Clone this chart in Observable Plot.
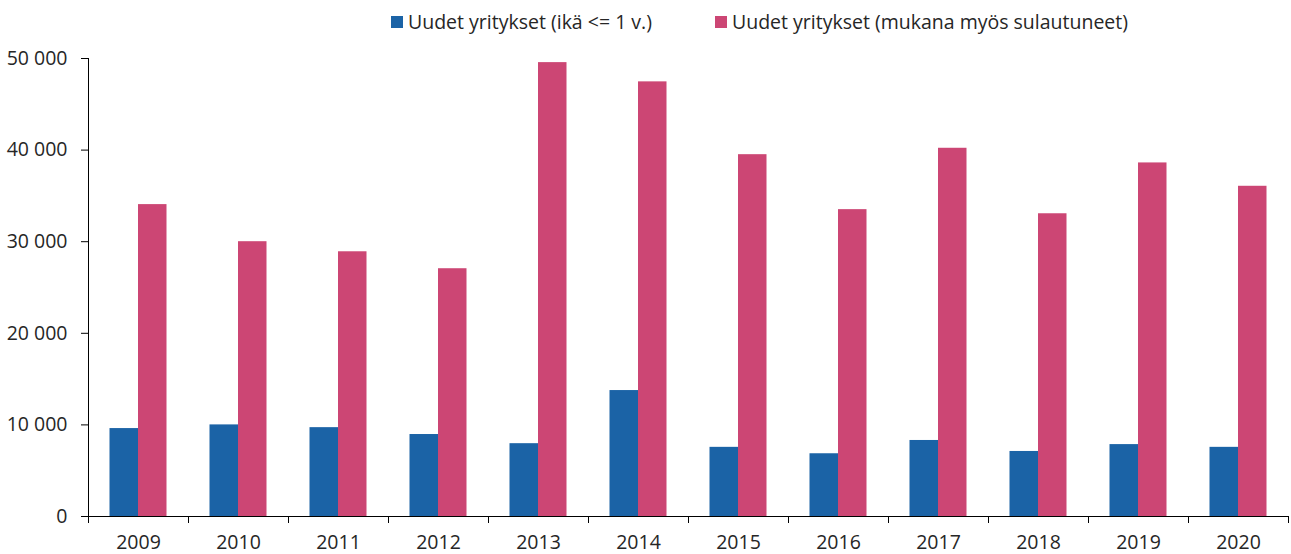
<!DOCTYPE html>
<html>
<head>
<meta charset="utf-8">
<script src="https://cdn.jsdelivr.net/npm/d3@7"></script>
<script src="https://cdn.jsdelivr.net/npm/@observablehq/plot@0.6"></script>
<style>
  html, body { margin: 0; padding: 0; background: #fff; }
  body { width: 1291px; height: 554px; overflow: hidden; font-family: "Open Sans", sans-serif; color: #262626; }
  #legend { position: relative; height: 40px; font-size: 19.5px; }
  .item { position: absolute; top: 8px; display: flex; align-items: center; white-space: nowrap; }
  .sw { width: 12px; height: 12px; margin-right: 5px; }
  #chart svg { display: block; }
</style>
</head>
<body>
<div id="legend"></div>
<div id="chart"></div>
<script>
const years = ["2009","2010","2011","2012","2013","2014","2015","2016","2017","2018","2019","2020"];
const seriesNames = ["Uudet yritykset (ikä <= 1 v.)", "Uudet yritykset (mukana myös sulautuneet)"];
const seriesColors = ["#1b63a6", "#cc4674"];
const newFirms = [9600, 10000, 9700, 8950, 7950, 13750, 7550, 6850, 8300, 7100, 7850, 7550];
const withMerged = [34050, 30000, 28900, 27050, 49550, 47450, 39500, 33500, 40200, 33050, 38600, 36050];
const yTicks = [0, 10000, 20000, 30000, 40000, 50000];

const legend = document.getElementById("legend");
const legendLeft = [391, 715];
seriesNames.forEach((name, i) => {
  const el = document.createElement("div");
  el.className = "item";
  el.style.left = legendLeft[i] + "px";
  el.innerHTML = `<span class="sw" style="background:${seriesColors[i]}"></span><span>${name}</span>`;
  legend.appendChild(el);
});

const dataBlue = years.map((y, i) => ({year: y, value: newFirms[i]}));
const dataPink = years.map((y, i) => ({year: y, value: withMerged[i]}));
const fmt = d => d3.format(",")(d).replace(/,/g, " ");

const chart = Plot.plot({
  width: 1291,
  height: 514,
  marginLeft: 88,
  marginRight: 3,
  marginTop: 18,
  marginBottom: 38,
  style: {fontFamily: "'Open Sans', sans-serif", fontSize: "19.5px", color: "#262626", background: "#fff", overflow: "visible"},
  x: {domain: years, padding: 0, label: null},
  y: {domain: [0, 50000], label: null},
  marks: [
    Plot.barY(dataBlue, {x: "year", y: "value", fill: seriesColors[0], insetLeft: 21.5, insetRight: 50}),
    Plot.barY(dataPink, {x: "year", y: "value", fill: seriesColors[1], insetLeft: 50, insetRight: 21.5}),
    Plot.axisY({ticks: yTicks, tickFormat: fmt, tickSize: 7, tickPadding: 14, stroke: "#000", fill: "#262626", label: null}),
    Plot.axisX({tickSize: 0, tickPadding: 19, fill: "#262626", label: null}),
    Plot.axisX({ticks: years, tickSize: 7, tickFormat: () => "", dx: -50, stroke: "#000", label: null}),
    Plot.axisX({ticks: years.slice(-1), tickSize: 7, tickFormat: () => "", dx: 50, stroke: "#000", label: null}),
    Plot.frame({anchor: "left", stroke: "#000"}),
    Plot.ruleY([0], {stroke: "#000"})
  ]
});
document.getElementById("chart").appendChild(chart);
</script>
</body>
</html>
